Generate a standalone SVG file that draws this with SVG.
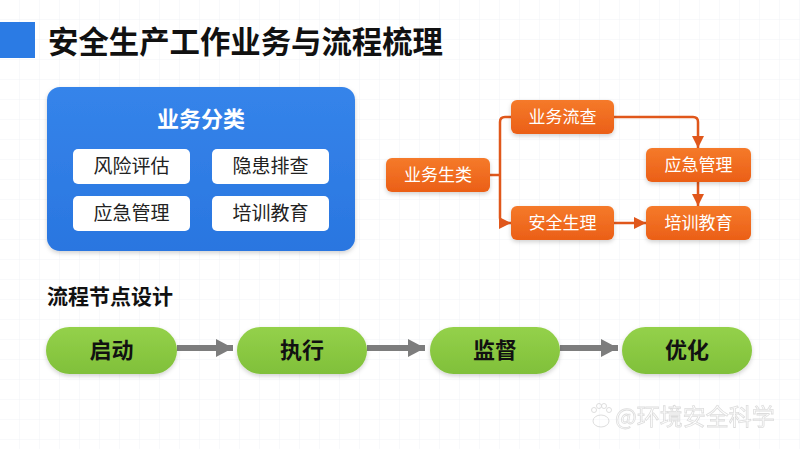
<svg xmlns="http://www.w3.org/2000/svg" width="800" height="449" viewBox="0 0 800 449">
<defs>
<style>
.cjk{font-family:"Noto Sans CJK SC","Noto Sans",sans-serif}
.title{font-size:31px;font-weight:700;fill:#111}
.ptitle{font-size:22px;font-weight:700;fill:#fff}
.wtxt{font-size:19px;fill:#222}
.otxt{font-size:17px;fill:#fff}
.gtxt{font-size:22px;font-weight:700;fill:#111}
.head{font-size:21px;font-weight:700;fill:#111}
.obox{fill:url(#og);filter:url(#sh)}
.wbox{fill:#fff}
.pill{fill:url(#gg);filter:url(#sh)}
.oline{fill:none;stroke:#E0571B;stroke-width:2.5}
.gline{fill:none;stroke:#7d7d7d;stroke-width:6}
</style>
<pattern id="grid" width="20" height="20" patternUnits="userSpaceOnUse">
<path d="M20,0 V20 H0" fill="none" stroke="#f1f3f6" stroke-width="1"/>
</pattern>
<linearGradient id="og" x1="0" y1="0" x2="0" y2="1">
<stop offset="0" stop-color="#F57A2A"/>
<stop offset="1" stop-color="#EB5F17"/>
</linearGradient>
<linearGradient id="gg" x1="0" y1="0" x2="0" y2="1">
<stop offset="0" stop-color="#94D14A"/>
<stop offset="1" stop-color="#80C03A"/>
</linearGradient>
<linearGradient id="bg" x1="0" y1="0" x2="0" y2="1">
<stop offset="0" stop-color="#3584EA"/>
<stop offset="1" stop-color="#2A76E0"/>
</linearGradient>
<filter id="sh" x="-20%" y="-30%" width="140%" height="170%">
<feDropShadow dx="0" dy="2" stdDeviation="2" flood-color="#000" flood-opacity="0.18"/>
</filter>
<marker id="oa" markerUnits="userSpaceOnUse" markerWidth="12" markerHeight="12" refX="12" refY="6" orient="auto">
<path d="M0,0 L12,6 L0,12 z" fill="#E0571B"/>
</marker>
<marker id="ga" markerUnits="userSpaceOnUse" markerWidth="17" markerHeight="20" refX="17" refY="10" orient="auto">
<path d="M0,1 L17,10 L0,19 z" fill="#7d7d7d"/>
</marker>
</defs>
<rect width="800" height="449" fill="#fff"/>
<rect width="800" height="449" fill="url(#grid)"/>

<g id="header">
<rect x="0" y="22" width="35" height="36" fill="#2B7BE4"/>
<text class="cjk title" x="48" y="53" textLength="395" lengthAdjust="spacingAndGlyphs">安全生产工作业务与流程梳理</text>
</g>

<g id="panel-business">
<rect x="47" y="87" width="308" height="164" rx="13" fill="url(#bg)" filter="url(#sh)"/>
<text class="cjk ptitle" x="201" y="127" text-anchor="middle">业务分类</text>
</g>
<g id="cat-risk"><rect class="wbox" x="73" y="149" width="117" height="35" rx="5"/><text class="cjk wtxt" x="131.5" y="173" text-anchor="middle">风险评估</text></g>
<g id="cat-hazard"><rect class="wbox" x="212" y="149" width="117" height="35" rx="5"/><text class="cjk wtxt" x="270.5" y="173" text-anchor="middle">隐患排查</text></g>
<g id="cat-emergency"><rect class="wbox" x="73" y="196" width="117" height="35" rx="5"/><text class="cjk wtxt" x="131.5" y="220" text-anchor="middle">应急管理</text></g>
<g id="cat-training"><rect class="wbox" x="212" y="196" width="117" height="35" rx="5"/><text class="cjk wtxt" x="270.5" y="220" text-anchor="middle">培训教育</text></g>

<g id="connectors-orange">
<path class="oline" d="M490,175 H500"/>
<path class="oline" d="M511,117 H505 Q500,117 500,122 V218 Q500,223 505,223 H511" marker-end="url(#oa)"/>
<path class="oline" d="M614,117 H693 Q698,117 698,122 V148" marker-end="url(#oa)"/>
<path class="oline" d="M698,182 V206" marker-end="url(#oa)"/>
<path class="oline" d="M614,223 H646" marker-end="url(#oa)"/>
</g>

<g id="o-root"><rect class="obox" x="386" y="158" width="104" height="34" rx="6"/><text class="cjk otxt" x="438" y="181" text-anchor="middle">业务生类</text></g>
<g id="o-check"><rect class="obox" x="511" y="100" width="103" height="34" rx="6"/><text class="cjk otxt" x="562.5" y="123" text-anchor="middle">业务流查</text></g>
<g id="o-emergency"><rect class="obox" x="646" y="148" width="105" height="34" rx="6"/><text class="cjk otxt" x="698.5" y="171" text-anchor="middle">应急管理</text></g>
<g id="o-safety"><rect class="obox" x="511" y="206" width="103" height="34" rx="6"/><text class="cjk otxt" x="562.5" y="229" text-anchor="middle">安全生理</text></g>
<g id="o-training"><rect class="obox" x="646" y="206" width="105" height="34" rx="6"/><text class="cjk otxt" x="698.5" y="229" text-anchor="middle">培训教育</text></g>

<g id="section-head">
<text class="cjk head" x="47" y="304">流程节点设计</text>
</g>

<g id="connectors-gray">
<path class="gline" d="M177,348 H233" marker-end="url(#ga)"/>
<path class="gline" d="M367,348 H425" marker-end="url(#ga)"/>
<path class="gline" d="M560,348 H618" marker-end="url(#ga)"/>
</g>

<g id="p-start"><rect class="pill" x="46" y="327" width="131" height="47" rx="23.5"/><text class="cjk gtxt" x="111.5" y="358" text-anchor="middle">启动</text></g>
<g id="p-exec"><rect class="pill" x="237" y="327" width="130" height="47" rx="23.5"/><text class="cjk gtxt" x="302" y="358" text-anchor="middle">执行</text></g>
<g id="p-monitor"><rect class="pill" x="430" y="327" width="130" height="47" rx="23.5"/><text class="cjk gtxt" x="495" y="358" text-anchor="middle">监督</text></g>
<g id="p-optimize"><rect class="pill" x="622" y="327" width="130" height="47" rx="23.5"/><text class="cjk gtxt" x="687" y="358" text-anchor="middle">优化</text></g>

<g id="watermark" opacity="0.5">
<g fill="none" stroke="#bbb" stroke-width="1">
<ellipse cx="601" cy="421" rx="8" ry="6"/>
<circle cx="594" cy="410" r="2.5"/>
<circle cx="599" cy="406" r="2.5"/>
<circle cx="604" cy="406" r="2.5"/>
<circle cx="609" cy="410" r="2.5"/>
</g>
<text x="615" y="425" font-family="'Noto Sans CJK SC',sans-serif" font-size="23" fill="#fff" stroke="#bbb" stroke-width="0.8">@环境安全科学</text>
</g>
</svg>
